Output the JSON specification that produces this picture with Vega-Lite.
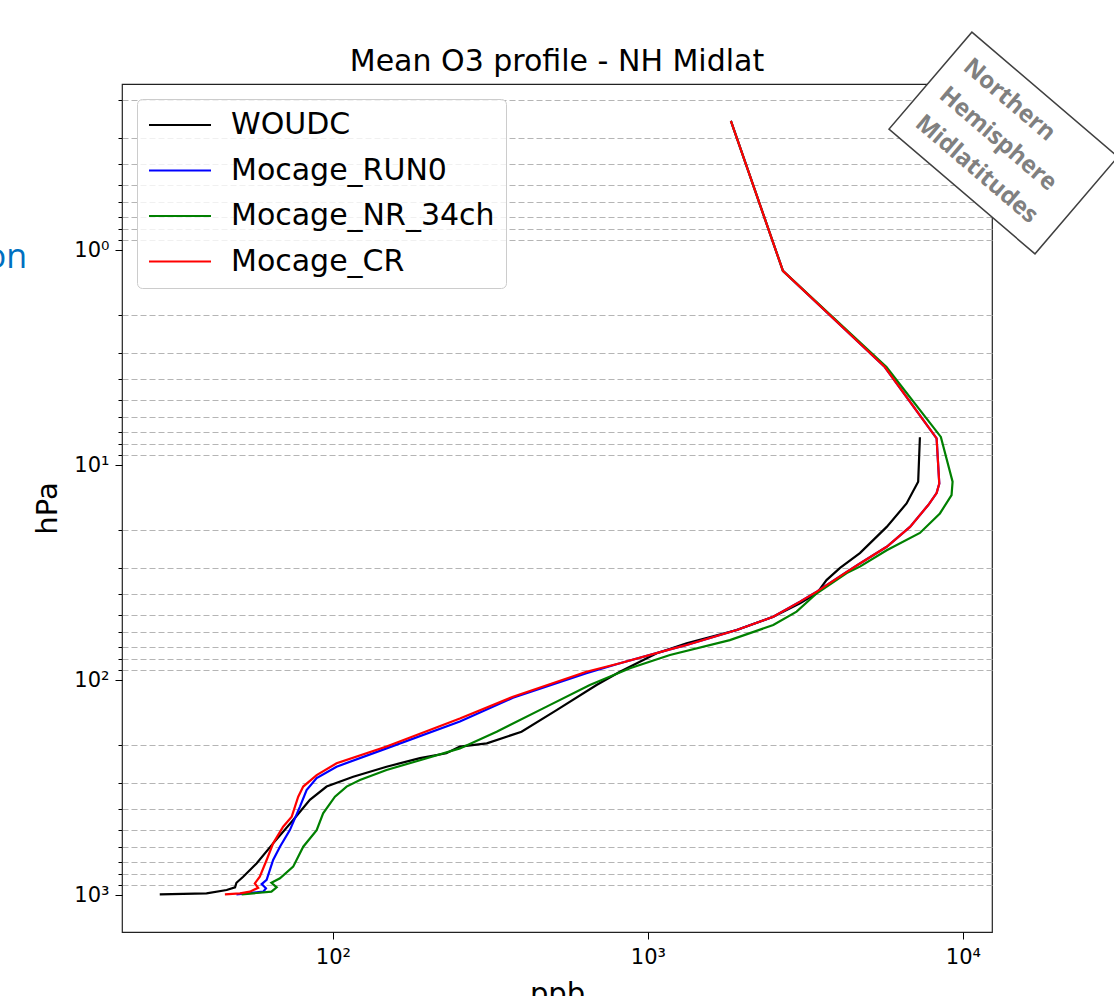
{
  "$schema": "https://vega.github.io/schema/vega-lite/v6.json",
  "width": 870,
  "height": 848,
  "autosize": {"type": "none"},
  "padding": {"left": 122, "top": 84, "right": 122, "bottom": 64},
  "title": {"text": "Mean O3 profile - NH Midlat", "font": "DejaVu Sans", "fontSize": 30, "fontWeight": "normal", "color": "#000000", "offset": -48, "anchor": "middle"},
  "config": {
    "view": {"stroke": "#222222", "strokeWidth": 1.2},
    "font": "DejaVu Sans",
    "legend": {"symbolType": "stroke", "symbolSize": 3844, "symbolStrokeWidth": 2, "labelFont": "DejaVu Sans", "labelFontSize": 30, "labelColor": "#000000", "labelOffset": 19, "padding": 11, "rowPadding": 15.5, "clipHeight": 30, "fillColor": "rgba(255,255,255,0.8)", "strokeColor": "#cccccc", "cornerRadius": 5, "labelLimit": 500}
  },
  "datasets": {
    "profiles": [
      {"s": "WOUDC", "ppb": 28.2, "hPa": 993},
      {"s": "WOUDC", "ppb": 39.7, "hPa": 982},
      {"s": "WOUDC", "ppb": 46.0, "hPa": 948},
      {"s": "WOUDC", "ppb": 48.9, "hPa": 921},
      {"s": "WOUDC", "ppb": 49.4, "hPa": 877},
      {"s": "WOUDC", "ppb": 51.9, "hPa": 822},
      {"s": "WOUDC", "ppb": 57.3, "hPa": 712},
      {"s": "WOUDC", "ppb": 64.6, "hPa": 575},
      {"s": "WOUDC", "ppb": 74.8, "hPa": 448},
      {"s": "WOUDC", "ppb": 84.5, "hPa": 361},
      {"s": "WOUDC", "ppb": 95.5, "hPa": 313},
      {"s": "WOUDC", "ppb": 116, "hPa": 282},
      {"s": "WOUDC", "ppb": 148, "hPa": 253},
      {"s": "WOUDC", "ppb": 189, "hPa": 231},
      {"s": "WOUDC", "ppb": 229, "hPa": 219},
      {"s": "WOUDC", "ppb": 253, "hPa": 204},
      {"s": "WOUDC", "ppb": 308, "hPa": 197},
      {"s": "WOUDC", "ppb": 397, "hPa": 174},
      {"s": "WOUDC", "ppb": 513, "hPa": 138},
      {"s": "WOUDC", "ppb": 687, "hPa": 105.5},
      {"s": "WOUDC", "ppb": 815, "hPa": 91.5},
      {"s": "WOUDC", "ppb": 1067, "hPa": 75.1},
      {"s": "WOUDC", "ppb": 1327, "hPa": 67.5},
      {"s": "WOUDC", "ppb": 1914, "hPa": 58.5},
      {"s": "WOUDC", "ppb": 2500, "hPa": 50.8},
      {"s": "WOUDC", "ppb": 3040, "hPa": 44.0},
      {"s": "WOUDC", "ppb": 3437, "hPa": 39.5},
      {"s": "WOUDC", "ppb": 3690, "hPa": 34.3},
      {"s": "WOUDC", "ppb": 4074, "hPa": 30.1},
      {"s": "WOUDC", "ppb": 4710, "hPa": 25.7},
      {"s": "WOUDC", "ppb": 5730, "hPa": 19.4},
      {"s": "WOUDC", "ppb": 6624, "hPa": 15.1},
      {"s": "WOUDC", "ppb": 7211, "hPa": 11.96},
      {"s": "WOUDC", "ppb": 7303, "hPa": 7.43},

      {"s": "Mocage_RUN0", "ppb": 49.4, "hPa": 993},
      {"s": "Mocage_RUN0", "ppb": 60.1, "hPa": 965},
      {"s": "Mocage_RUN0", "ppb": 61.3, "hPa": 931},
      {"s": "Mocage_RUN0", "ppb": 59.4, "hPa": 889},
      {"s": "Mocage_RUN0", "ppb": 61.6, "hPa": 851},
      {"s": "Mocage_RUN0", "ppb": 64.6, "hPa": 687},
      {"s": "Mocage_RUN0", "ppb": 67.9, "hPa": 596},
      {"s": "Mocage_RUN0", "ppb": 73.0, "hPa": 499},
      {"s": "Mocage_RUN0", "ppb": 78.6, "hPa": 388},
      {"s": "Mocage_RUN0", "ppb": 82.5, "hPa": 325},
      {"s": "Mocage_RUN0", "ppb": 88.8, "hPa": 286},
      {"s": "Mocage_RUN0", "ppb": 102.7, "hPa": 253},
      {"s": "Mocage_RUN0", "ppb": 148, "hPa": 208},
      {"s": "Mocage_RUN0", "ppb": 253, "hPa": 156},
      {"s": "Mocage_RUN0", "ppb": 373, "hPa": 121},
      {"s": "Mocage_RUN0", "ppb": 638, "hPa": 93},
      {"s": "Mocage_RUN0", "ppb": 815, "hPa": 83.6},
      {"s": "Mocage_RUN0", "ppb": 1175, "hPa": 72.0},
      {"s": "Mocage_RUN0", "ppb": 1327, "hPa": 68.7},
      {"s": "Mocage_RUN0", "ppb": 1914, "hPa": 58.5},
      {"s": "Mocage_RUN0", "ppb": 2500, "hPa": 50.8},
      {"s": "Mocage_RUN0", "ppb": 3040, "hPa": 43.2},
      {"s": "Mocage_RUN0", "ppb": 3437, "hPa": 38.8},
      {"s": "Mocage_RUN0", "ppb": 4278, "hPa": 31.4},
      {"s": "Mocage_RUN0", "ppb": 4710, "hPa": 28.7},
      {"s": "Mocage_RUN0", "ppb": 5730, "hPa": 24.0},
      {"s": "Mocage_RUN0", "ppb": 6793, "hPa": 19.4},
      {"s": "Mocage_RUN0", "ppb": 7762, "hPa": 15.35},
      {"s": "Mocage_RUN0", "ppb": 8251, "hPa": 13.5},
      {"s": "Mocage_RUN0", "ppb": 8414, "hPa": 12.2},
      {"s": "Mocage_RUN0", "ppb": 8251, "hPa": 7.51},
      {"s": "Mocage_RUN0", "ppb": 5649, "hPa": 3.50},
      {"s": "Mocage_RUN0", "ppb": 2683, "hPa": 1.25},
      {"s": "Mocage_RUN0", "ppb": 1834, "hPa": 0.251},

      {"s": "Mocage_NR_34ch", "ppb": 51.3, "hPa": 993},
      {"s": "Mocage_NR_34ch", "ppb": 63.8, "hPa": 965},
      {"s": "Mocage_NR_34ch", "ppb": 66.3, "hPa": 921},
      {"s": "Mocage_NR_34ch", "ppb": 63.8, "hPa": 877},
      {"s": "Mocage_NR_34ch", "ppb": 67.9, "hPa": 836},
      {"s": "Mocage_NR_34ch", "ppb": 74.8, "hPa": 738},
      {"s": "Mocage_NR_34ch", "ppb": 80.5, "hPa": 596},
      {"s": "Mocage_NR_34ch", "ppb": 88.8, "hPa": 499},
      {"s": "Mocage_NR_34ch", "ppb": 93.1, "hPa": 417},
      {"s": "Mocage_NR_34ch", "ppb": 101.5, "hPa": 349},
      {"s": "Mocage_NR_34ch", "ppb": 110.5, "hPa": 313},
      {"s": "Mocage_NR_34ch", "ppb": 121.8, "hPa": 292},
      {"s": "Mocage_NR_34ch", "ppb": 148, "hPa": 262},
      {"s": "Mocage_NR_34ch", "ppb": 189, "hPa": 236},
      {"s": "Mocage_NR_34ch", "ppb": 253, "hPa": 208},
      {"s": "Mocage_NR_34ch", "ppb": 331, "hPa": 174},
      {"s": "Mocage_NR_34ch", "ppb": 477, "hPa": 133},
      {"s": "Mocage_NR_34ch", "ppb": 654, "hPa": 105.5},
      {"s": "Mocage_NR_34ch", "ppb": 877, "hPa": 88.2},
      {"s": "Mocage_NR_34ch", "ppb": 1175, "hPa": 76.5},
      {"s": "Mocage_NR_34ch", "ppb": 1820, "hPa": 65.2},
      {"s": "Mocage_NR_34ch", "ppb": 2500, "hPa": 55.5},
      {"s": "Mocage_NR_34ch", "ppb": 2965, "hPa": 48.1},
      {"s": "Mocage_NR_34ch", "ppb": 3437, "hPa": 39.5},
      {"s": "Mocage_NR_34ch", "ppb": 4278, "hPa": 31.8},
      {"s": "Mocage_NR_34ch", "ppb": 4710, "hPa": 29.7},
      {"s": "Mocage_NR_34ch", "ppb": 5730, "hPa": 24.9},
      {"s": "Mocage_NR_34ch", "ppb": 7303, "hPa": 20.7},
      {"s": "Mocage_NR_34ch", "ppb": 8453, "hPa": 16.8},
      {"s": "Mocage_NR_34ch", "ppb": 9204, "hPa": 13.8},
      {"s": "Mocage_NR_34ch", "ppb": 9273, "hPa": 11.96},
      {"s": "Mocage_NR_34ch", "ppb": 8511, "hPa": 7.4},
      {"s": "Mocage_NR_34ch", "ppb": 5720, "hPa": 3.50},
      {"s": "Mocage_NR_34ch", "ppb": 2683, "hPa": 1.25},
      {"s": "Mocage_NR_34ch", "ppb": 1834, "hPa": 0.251},

      {"s": "Mocage_CR", "ppb": 45.4, "hPa": 993},
      {"s": "Mocage_CR", "ppb": 50.7, "hPa": 982},
      {"s": "Mocage_CR", "ppb": 54.5, "hPa": 965},
      {"s": "Mocage_CR", "ppb": 57.9, "hPa": 925},
      {"s": "Mocage_CR", "ppb": 56.5, "hPa": 883},
      {"s": "Mocage_CR", "ppb": 58.6, "hPa": 822},
      {"s": "Mocage_CR", "ppb": 61.6, "hPa": 687},
      {"s": "Mocage_CR", "ppb": 64.6, "hPa": 575},
      {"s": "Mocage_CR", "ppb": 69.5, "hPa": 481},
      {"s": "Mocage_CR", "ppb": 74.0, "hPa": 432},
      {"s": "Mocage_CR", "ppb": 77.6, "hPa": 349},
      {"s": "Mocage_CR", "ppb": 80.5, "hPa": 313},
      {"s": "Mocage_CR", "ppb": 88.8, "hPa": 277},
      {"s": "Mocage_CR", "ppb": 102.7, "hPa": 244},
      {"s": "Mocage_CR", "ppb": 148, "hPa": 204},
      {"s": "Mocage_CR", "ppb": 253, "hPa": 151},
      {"s": "Mocage_CR", "ppb": 373, "hPa": 119.6},
      {"s": "Mocage_CR", "ppb": 638, "hPa": 91.5},
      {"s": "Mocage_CR", "ppb": 815, "hPa": 83.6},
      {"s": "Mocage_CR", "ppb": 1175, "hPa": 72.0},
      {"s": "Mocage_CR", "ppb": 1327, "hPa": 68.7},
      {"s": "Mocage_CR", "ppb": 1914, "hPa": 58.5},
      {"s": "Mocage_CR", "ppb": 2500, "hPa": 50.8},
      {"s": "Mocage_CR", "ppb": 3040, "hPa": 43.2},
      {"s": "Mocage_CR", "ppb": 3437, "hPa": 38.8},
      {"s": "Mocage_CR", "ppb": 4278, "hPa": 31.4},
      {"s": "Mocage_CR", "ppb": 4710, "hPa": 28.7},
      {"s": "Mocage_CR", "ppb": 5730, "hPa": 24.0},
      {"s": "Mocage_CR", "ppb": 6793, "hPa": 19.4},
      {"s": "Mocage_CR", "ppb": 7762, "hPa": 15.35},
      {"s": "Mocage_CR", "ppb": 8251, "hPa": 13.5},
      {"s": "Mocage_CR", "ppb": 8414, "hPa": 12.2},
      {"s": "Mocage_CR", "ppb": 8251, "hPa": 7.51},
      {"s": "Mocage_CR", "ppb": 5649, "hPa": 3.50},
      {"s": "Mocage_CR", "ppb": 2683, "hPa": 1.25},
      {"s": "Mocage_CR", "ppb": 1834, "hPa": 0.251}
    ],
    "box": [
      {"ppb": 13450, "hPa": 0.3178}
    ],
    "note": [
      {"ppb": 10266, "hPa": 0.1361, "label": "Northern\nHemisphere\nMidlatitudes"}
    ],
    "clip": [
      {"ppb": 10.7, "hPa": 1.09, "label": "on"}
    ]
  },
  "encoding": {
    "x": {
      "field": "ppb", "type": "quantitative",
      "scale": {"type": "log", "domain": [21.4, 12370], "nice": false},
      "axis": {
        "values": [100, 1000, 10000],
        "labelExpr": "datum.value == 100 ? '10²' : datum.value == 1000 ? '10³' : '10⁴'",
        "title": "ppb", "titleFont": "DejaVu Sans", "titleFontSize": 29, "titleFontWeight": "normal", "titleColor": "#000000", "titlePadding": 12,
        "labelFont": "DejaVu Sans", "labelFontSize": 21, "labelColor": "#000000", "labelPadding": 7,
        "tickColor": "#000000", "tickSize": 7, "tickWidth": 1, "domain": false, "grid": false, "labelOverlap": false
      }
    },
    "y": {
      "field": "hPa", "type": "quantitative",
      "scale": {"type": "log", "domain": [0.169, 1486], "nice": false, "reverse": true},
      "axis": {
        "values": [0.2, 0.3, 0.4, 0.5, 0.6, 0.7, 0.8, 0.9, 1, 2, 3, 4, 5, 6, 7, 8, 9, 10, 20, 30, 40, 50, 60, 70, 80, 90, 100, 200, 300, 400, 500, 600, 700, 800, 900, 1000],
        "labelExpr": "datum.value == 1 ? '10⁰' : datum.value == 10 ? '10¹' : datum.value == 100 ? '10²' : datum.value == 1000 ? '10³' : ''",
        "title": "hPa", "titleFont": "DejaVu Sans", "titleFontSize": 29, "titleFontWeight": "normal", "titleColor": "#000000", "titlePadding": 11,
        "labelFont": "DejaVu Sans", "labelFontSize": 21, "labelColor": "#000000", "labelPadding": 6,
        "tickColor": "#000000", "tickWidth": 1,
        "tickSize": {"condition": {"test": "indexof([1, 10, 100, 1000], datum.value) >= 0", "value": 7}, "value": 4},
        "grid": true, "gridDash": [6, 3], "gridColor": "#b5b5b5", "gridWidth": 1,
        "gridOpacity": {"condition": {"test": "indexof([1, 10, 100, 1000], datum.value) >= 0", "value": 0}, "value": 1},
        "domain": false, "labelOverlap": false, "labelBound": false
      }
    }
  },
  "layer": [
    {
      "data": {"name": "profiles"},
      "transform": [{"filter": "datum.s == 'WOUDC'"}],
      "mark": {"type": "line", "strokeWidth": 2.2},
      "encoding": {
        "color": {"field": "s", "type": "nominal", "scale": {"domain": ["WOUDC", "Mocage_RUN0", "Mocage_NR_34ch", "Mocage_CR"], "range": ["#000000", "#0000ff", "#008000", "#ff0000"]}, "legend": {"orient": "none", "legendX": 15, "legendY": 15, "title": null}},
        "order": {"field": "hPa", "type": "quantitative", "sort": "descending"}
      }
    },
    {
      "data": {"name": "profiles"},
      "transform": [{"filter": "datum.s == 'Mocage_RUN0'"}],
      "mark": {"type": "line", "strokeWidth": 2.2},
      "encoding": {
        "color": {"field": "s", "type": "nominal", "scale": {"domain": ["WOUDC", "Mocage_RUN0", "Mocage_NR_34ch", "Mocage_CR"], "range": ["#000000", "#0000ff", "#008000", "#ff0000"]}, "legend": {"orient": "none", "legendX": 15, "legendY": 15, "title": null}},
        "order": {"field": "hPa", "type": "quantitative", "sort": "descending"}
      }
    },
    {
      "data": {"name": "profiles"},
      "transform": [{"filter": "datum.s == 'Mocage_NR_34ch'"}],
      "mark": {"type": "line", "strokeWidth": 2.2},
      "encoding": {
        "color": {"field": "s", "type": "nominal", "scale": {"domain": ["WOUDC", "Mocage_RUN0", "Mocage_NR_34ch", "Mocage_CR"], "range": ["#000000", "#0000ff", "#008000", "#ff0000"]}, "legend": {"orient": "none", "legendX": 15, "legendY": 15, "title": null}},
        "order": {"field": "hPa", "type": "quantitative", "sort": "descending"}
      }
    },
    {
      "data": {"name": "profiles"},
      "transform": [{"filter": "datum.s == 'Mocage_CR'"}],
      "mark": {"type": "line", "strokeWidth": 2.2},
      "encoding": {
        "color": {"field": "s", "type": "nominal", "scale": {"domain": ["WOUDC", "Mocage_RUN0", "Mocage_NR_34ch", "Mocage_CR"], "range": ["#000000", "#0000ff", "#008000", "#ff0000"]}, "legend": {"orient": "none", "legendX": 15, "legendY": 15, "title": null}},
        "order": {"field": "hPa", "type": "quantitative", "sort": "descending"}
      }
    },
    {
      "data": {"name": "box"},
      "mark": {"type": "point", "shape": "M-1,-0.665L1,-0.665L1,0.665L-1,0.665Z", "size": 36864, "angle": 40.5, "filled": true, "fill": "#ffffff", "stroke": "#404040", "strokeWidth": 1.5, "opacity": 1, "fillOpacity": 1, "strokeOpacity": 1}
    },
    {
      "data": {"name": "note"},
      "mark": {"type": "text", "lineBreak": "\n", "angle": 40.5, "font": "Open Sans", "fontWeight": "bold", "fontSize": 24, "lineHeight": 37, "color": "#808080", "align": "left", "baseline": "middle"},
      "encoding": {"text": {"field": "label"}}
    },
    {
      "data": {"name": "clip"},
      "mark": {"type": "text", "font": "Open Sans", "fontSize": 34, "color": "#0070c0", "align": "right", "baseline": "middle"},
      "encoding": {"text": {"field": "label"}}
    }
  ]
}
